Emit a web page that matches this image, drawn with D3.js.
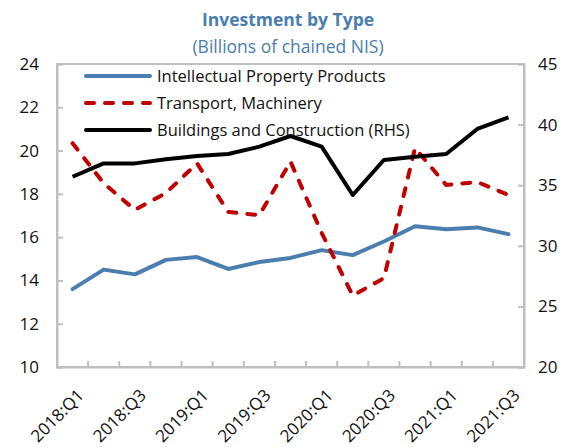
<!DOCTYPE html>
<html>
<head>
<meta charset="utf-8">
<script src="https://cdn.jsdelivr.net/npm/d3@7"></script>
<style>
  body { margin: 0; background: #fff; }
  text { font-family: "Open Sans", "Noto Sans", sans-serif; }
</style>
</head>
<body>
<div id="chart"></div>
<script>
// quarters on the x axis
const quarters = ["2018:Q1","2018:Q2","2018:Q3","2018:Q4","2019:Q1","2019:Q2","2019:Q3","2019:Q4",
  "2020:Q1","2020:Q2","2020:Q3","2020:Q4","2021:Q1","2021:Q2","2021:Q3"];

// left axis series
const ipp = [13.6, 14.5, 14.28, 14.95, 15.08, 14.53, 14.85, 15.04, 15.4, 15.17, 15.8, 16.5, 16.36, 16.45, 16.14];
const transport = [20.34, 18.49, 17.26, 18.04, 19.41, 17.16, 17.02, 19.49, 16.2, 13.3, 14.1, 20.12, 18.41, 18.55, 17.95];
// right axis series
const buildings = [35.7, 36.8, 36.8, 37.14, 37.4, 37.57, 38.18, 39.06, 38.18, 34.19, 37.08, 37.35, 37.57, 39.64, 40.6];

const leftTicks = [10, 12, 14, 16, 18, 20, 22, 24];
const rightTicks = [20, 25, 30, 35, 40, 45];
const labelQuarters = quarters.filter((d, i) => i % 2 === 0);

const W = 576, H = 447;
const margin = {top: 64, right: 52, bottom: 80, left: 57};
const width = W - margin.left - margin.right,
      height = H - margin.top - margin.bottom;

const svg = d3.select("#chart").append("svg")
    .attr("width", W)
    .attr("height", H);

// title
svg.append("text")
  .attr("x", 288).attr("y", 26)
  .attr("text-anchor", "middle")
  .attr("fill", "#4a7eb0")
  .style("font-size", "17.5px").style("font-weight", "bold")
  .text("Investment by Type");
svg.append("text")
  .attr("x", 288).attr("y", 53)
  .attr("text-anchor", "middle")
  .attr("fill", "#4a7eb0")
  .style("font-size", "17.5px")
  .text("(Billions of chained NIS)");

const g = svg.append("g")
    .attr("transform", `translate(${margin.left},${margin.top})`);

const x = d3.scaleBand().domain(quarters).range([0, width]);
const xc = d => x(d) + x.bandwidth() / 2;
const yL = d3.scaleLinear().domain([10, 24]).range([height, 0]);
const yR = d3.scaleLinear().domain([20, 45]).range([height, 0]);

const gray = "#bfbfbf";

// frame
g.append("rect")
  .attr("width", width).attr("height", height)
  .attr("fill", "none").attr("stroke", gray).attr("stroke-width", 2);

// left axis
const left = g.append("g")
  .call(d3.axisLeft(yL).tickValues(leftTicks).tickSize(-6).tickPadding(18));
// right axis
const right = g.append("g")
  .attr("transform", `translate(${width},0)`)
  .call(d3.axisRight(yR).tickValues(rightTicks).tickSize(-6).tickPadding(14));
// bottom axis
const bottom = g.append("g")
  .attr("transform", `translate(0,${height})`)
  .call(d3.axisBottom(x).tickValues([]).tickSizeOuter(0));

[left, right].forEach(a => {
  a.select(".domain").attr("stroke", gray).attr("stroke-width", 2);
  a.selectAll(".tick line").attr("stroke", gray).attr("stroke-width", 2);
  a.selectAll("text").style("font-size", "17px").attr("fill", "#111")
    .style("font-family", "'Open Sans', 'Noto Sans', sans-serif");
});
bottom.select(".domain").attr("stroke", gray).attr("stroke-width", 2);

// tick marks between quarters on bottom
g.append("g").selectAll("line")
  .data(quarters.slice(1))
  .join("line")
    .attr("x1", d => x(d)).attr("x2", d => x(d))
    .attr("y1", height).attr("y2", height - 6)
    .attr("stroke", gray).attr("stroke-width", 2);

// x labels, rotated
g.append("g").selectAll("text")
  .data(labelQuarters)
  .join("text")
    .attr("transform", d => `translate(${xc(d) + 4},${height + 21})rotate(-45)`)
    .attr("text-anchor", "end")
    .attr("dy", "0.7em")
    .attr("fill", "#111")
    .style("font-size", "17px")
    .text(d => d);

// lines
const lineL = d3.line().x((d, i) => xc(quarters[i])).y(d => yL(d));
const lineR = d3.line().x((d, i) => xc(quarters[i])).y(d => yR(d));

g.append("path").datum(ipp)
  .attr("fill", "none").attr("stroke", "#4a7eb0").attr("stroke-width", 4)
  .attr("stroke-linejoin", "round").attr("stroke-linecap", "round")
  .attr("d", lineL);
g.append("path").datum(transport)
  .attr("fill", "none").attr("stroke", "#c00000").attr("stroke-width", 4)
  .attr("stroke-dasharray", "8,11").attr("stroke-linecap", "round")
  .attr("d", lineL);
g.append("path").datum(buildings)
  .attr("fill", "none").attr("stroke", "#000").attr("stroke-width", 4)
  .attr("stroke-linejoin", "round")
  .attr("d", lineR);

// legend
const legendItems = [
  {name: "Intellectual Property Products", color: "#4a7eb0", dash: null},
  {name: "Transport, Machinery", color: "#c00000", dash: "8,11"},
  {name: "Buildings and Construction (RHS)", color: "#000", dash: null}
];
const legend = svg.append("g");
legendItems.forEach((d, i) => {
  const yy = 76 + i * 27;
  legend.append("line")
    .attr("x1", 86).attr("x2", 150).attr("y1", yy).attr("y2", yy)
    .attr("stroke", d.color).attr("stroke-width", 4)
    .attr("stroke-linecap", "round")
    .attr("stroke-dasharray", d.dash);
  legend.append("text")
    .attr("x", 157).attr("y", yy).attr("dy", "0.35em")
    .attr("fill", "#111")
    .style("font-size", "16.5px")
    .text(d.name);
});
</script>
</body>
</html>
